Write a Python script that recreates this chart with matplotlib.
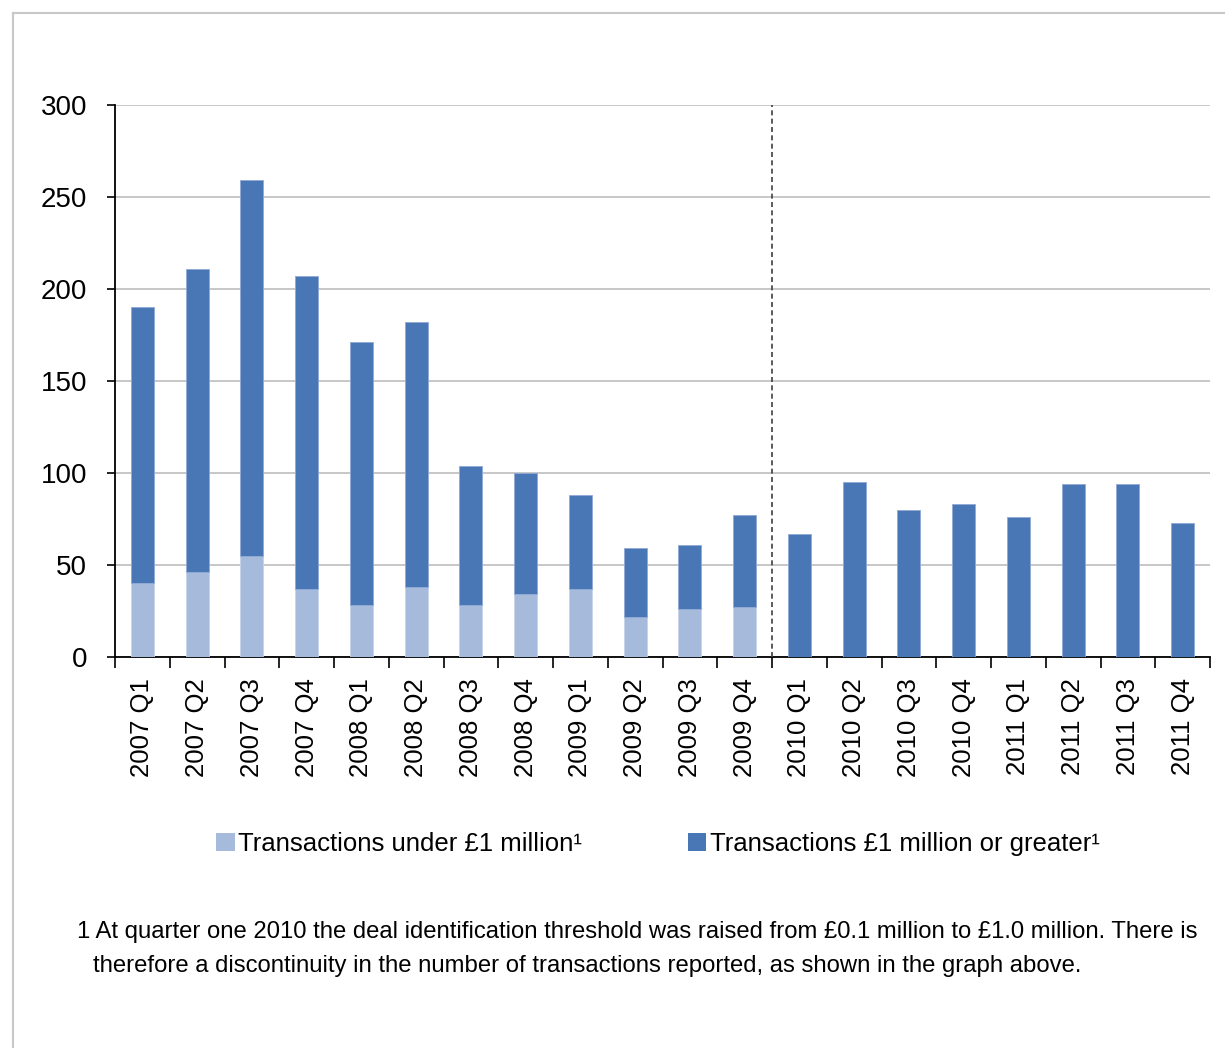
import matplotlib
matplotlib.use("Agg")
import matplotlib.pyplot as plt
from matplotlib.patches import Patch
from matplotlib.lines import Line2D
import numpy as np

categories = ["2007 Q1", "2007 Q2", "2007 Q3", "2007 Q4",
              "2008 Q1", "2008 Q2", "2008 Q3", "2008 Q4",
              "2009 Q1", "2009 Q2", "2009 Q3", "2009 Q4",
              "2010 Q1", "2010 Q2", "2010 Q3", "2010 Q4",
              "2011 Q1", "2011 Q2", "2011 Q3", "2011 Q4"]
under_1m = [40, 46, 55, 37, 28, 38, 28, 34, 37, 22, 26, 27,
            0, 0, 0, 0, 0, 0, 0, 0]
over_1m = [150, 165, 204, 170, 143, 144, 76, 66, 51, 37, 35, 50,
           67, 95, 80, 83, 76, 94, 94, 73]
yticks = [0, 50, 100, 150, 200, 250, 300]
legend_labels = ["Transactions under \u00a31 million\u00b9",
                 "Transactions \u00a31 million or greater\u00b9"]
footnote = ["1 At quarter one 2010 the deal identification threshold was raised from \u00a30.1 million to \u00a31.0 million. There is",
            "therefore a discontinuity in the number of transactions reported, as shown in the graph above."]

plt.rcParams['font.family'] = ['Liberation Sans', 'DejaVu Sans']

W, H = 1225, 1048
fig = plt.figure(figsize=(W / 100, H / 100), dpi=100)
ax = fig.add_axes([115 / W, 1 - 657 / H, (1210 - 115) / W, (657 - 105) / H])

dark = "#4977B5"
light = "#A6BADB"
x = np.arange(len(categories))
bw = 0.42
ax.bar(x, under_1m, bw, color=light, edgecolor="#C5D3EA", linewidth=0.6, zorder=3)
ax.bar(x, over_1m, bw, bottom=under_1m, color=dark, edgecolor="#8FAAD6", linewidth=0.6, zorder=3)

ax.set_xlim(-0.5, len(categories) - 0.5)
ax.set_ylim(0, 300)
ax.set_yticks(yticks)
ax.set_yticklabels([str(v) for v in yticks], fontsize=20)
ax.yaxis.grid(True, color="#BDBDBD", linewidth=1.2, zorder=0)
ax.set_axisbelow(True)

# x ticks at category boundaries, labels at centers
ax.set_xticks(np.arange(len(categories) + 1) - 0.5)
ax.set_xticklabels([])
ax.set_xticks(x, minor=True)
ax.set_xticklabels(categories, minor=True, rotation=90, fontsize=18.5)
ax.tick_params(axis='x', which='major', length=8, width=1.2, direction='out', color='black')
ax.tick_params(axis='x', which='minor', length=0, pad=15)
ax.tick_params(axis='y', length=6, width=1.2, direction='out', pad=14)

for s in ["top", "right"]:
    ax.spines[s].set_visible(False)
for s in ["left", "bottom"]:
    ax.spines[s].set_color("black")
    ax.spines[s].set_linewidth(1.3)

# discontinuity line between 2009 Q4 and 2010 Q1
ax.axvline(11.5, color="#404040", linestyle=(0, (3, 2)), linewidth=1.2, zorder=4)

# legend
handles = [Patch(facecolor=light, edgecolor="none"), Patch(facecolor=dark, edgecolor="none")]
leg = fig.legend(handles, legend_labels, loc="center left", ncol=2,
                 bbox_to_anchor=(216 / W, 1 - 844 / H), frameon=False,
                 fontsize=18.5, handlelength=0.72, handleheight=0.72,
                 handletextpad=0.15, columnspacing=4.1, borderpad=0, borderaxespad=0)

# footnote
fig.text(77 / W, 1 - 932 / H, footnote[0], fontsize=17.2, va="center", ha="left")
fig.text(93 / W, 1 - 966 / H, footnote[1], fontsize=17.2, va="center", ha="left")

# border frame
fig.add_artist(Line2D([13 / W, 1.0], [1 - 13 / H, 1 - 13 / H], color="#C8C8C8", linewidth=1.5))
fig.add_artist(Line2D([13 / W, 13 / W], [1 - 13 / H, 0.0], color="#C8C8C8", linewidth=1.5))

fig.savefig("out.png", dpi=100)
